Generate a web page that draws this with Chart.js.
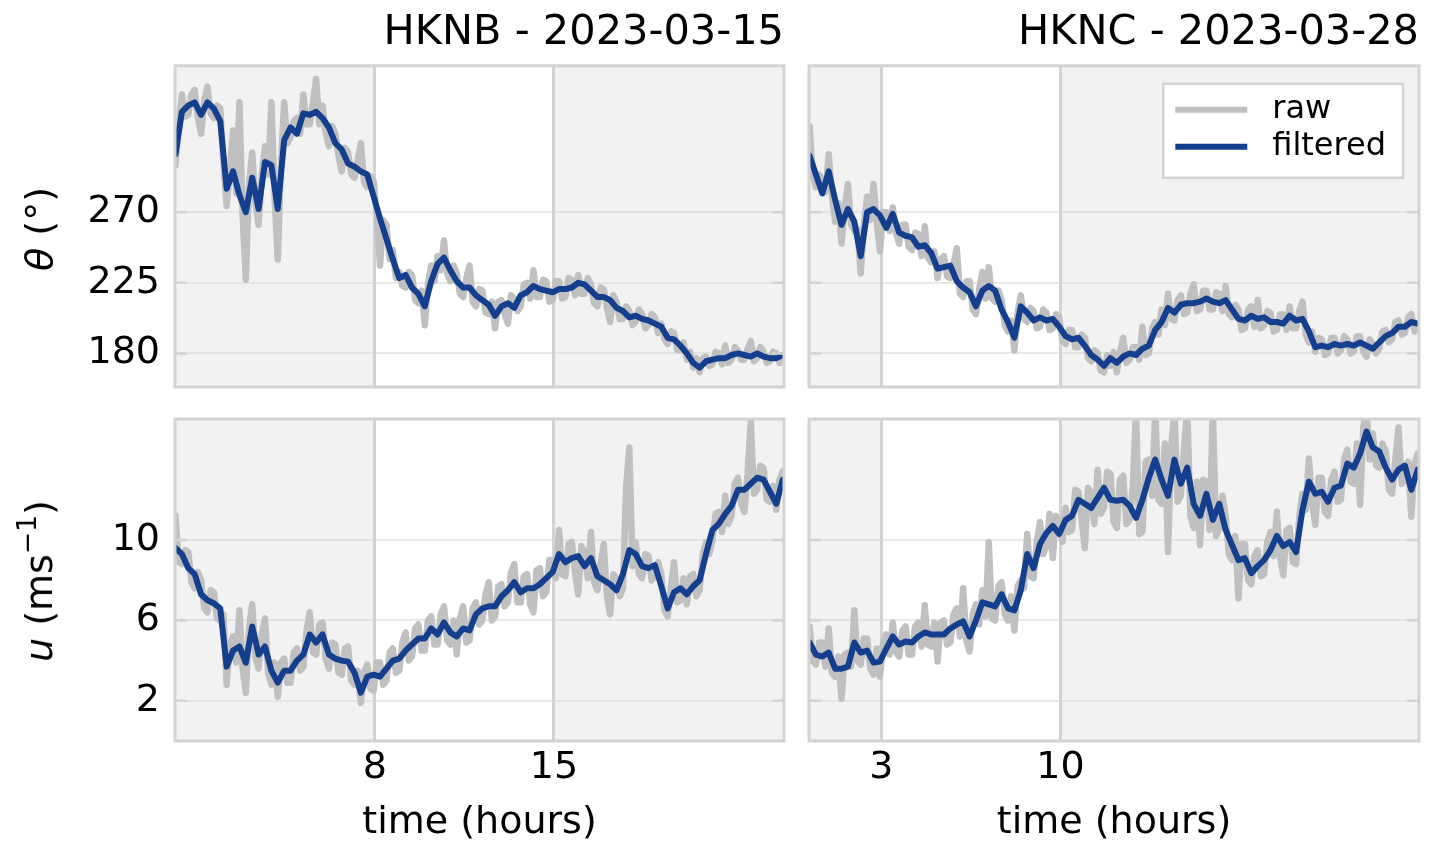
<!DOCTYPE html>
<html>
<head>
<meta charset="utf-8">
<script src="https://cdn.jsdelivr.net/npm/chart.js@4.4.1/dist/chart.umd.min.js"></script>
<style>
html,body{margin:0;padding:0;background:#fff;}
#wrap{position:relative;width:1440px;height:868px;overflow:hidden;background:#fff;font-family:'DejaVu Sans',sans-serif;}
canvas{position:absolute;}
.ylab{position:absolute;transform:translate(-50%,-50%) rotate(-90deg);white-space:nowrap;font-size:38px;line-height:1;color:#000;font-family:'DejaVu Sans',sans-serif;}
.ylab sup{font-size:0.7em;vertical-align:0.6em;line-height:0;}
</style>
</head>
<body>
<div id="wrap">
  <canvas id="cTL" width="800" height="400" style="left:0;top:0"></canvas>
  <canvas id="cTR" width="640" height="400" style="left:800px;top:0"></canvas>
  <canvas id="cBL" width="800" height="468" style="left:0;top:400px"></canvas>
  <canvas id="cBR" width="640" height="468" style="left:800px;top:400px"></canvas>
  <div class="ylab" style="left:39px;top:229px"><i>θ</i> (°)</div>
  <div class="ylab" style="left:39px;top:581px"><i>u</i> (ms<sup>−1</sup>)</div>
</div>
<script>
// ---------------- data ----------------
const stations = ['HKNB - 2023-03-15', 'HKNC - 2023-03-28'];
const seriesNames = ['raw', 'filtered'];
const xAxisLabel = 'time (hours)';

// sampling grids (hours): filtered every 15 min, raw every 7.5 min
const hours = Array.from({length: 96}, (_, i) => Math.round((0.2 + 0.25 * i) * 1000) / 1000);
const rawHours = Array.from({length: 191}, (_, i) => Math.round((0.2 + 0.125 * i) * 1000) / 1000);

const hknbHourTicks = [8, 15];
const hkncHourTicks = [3, 10];
const thetaTicks = [180, 225, 270];
const speedTicks = [2, 6, 10];

// night (shaded) periods, hours
const hknbNight = [[0, 8], [15, 24]];
const hkncNight = [[0, 3], [10, 24]];

// wind direction (deg) - HKNB
const hknbDirRaw = [300,326,345,331,332,345,348,330,320,341,350,333,330,338,336,302,274,296,322,282,
  340,268,227,288,308,276,262,294,312,294,340,280,240,300,340,314,318,328,330,320,
  345,326,326,340,355,326,338,321,312,325,320,306,296,311,308,294,292,303,314,289,
  286,293,290,267,236,265,262,240,246,228,232,223,222,232,230,214,212,220,198,224,
  236,226,242,233,252,231,226,236,231,218,216,228,236,213,210,221,220,206,205,213,
  196,213,214,205,199,217,215,207,210,224,225,215,233,216,216,227,226,213,214,226,
  226,215,216,228,227,217,230,218,218,228,224,212,210,222,221,209,200,217,213,202,
  202,210,207,198,200,208,205,196,198,205,203,193,199,189,186,194,193,182,182,187,
  176,181,171,177,168,177,178,172,173,181,180,173,185,174,176,184,182,176,176,183,
  188,175,177,184,181,174,175,181,180,174,176];
const hknbDirFilt = [307,334,338,340,332,340,336,328,285,296,
  281,270,292,272,302,300,272,316,324,320,
  333,332,334,330,324,314,310,301,299,296,
  294,280,266,253,240,228,230,222,218,210,
  226,237,241,233,226,222,222,217,214,211,
  204,210,212,209,217,219,223,221,220,219,
  221,221,222,225,224,220,216,216,214,209,
  207,203,204,202,201,199,197,190,189,185,
  180,174,171,175,176,177,177,179,180,179,
  178,180,178,177,177,179];

// wind direction (deg) - HKNC
const hkncDirRaw = [325,294,286,294,290,283,307,281,264,276,250,273,288,262,258,259,231,262,280,265,
  288,264,245,270,270,258,273,257,250,262,262,248,246,257,256,242,261,241,238,245,
  228,240,242,229,228,237,247,218,216,226,226,208,205,221,232,215,235,215,213,220,
  214,198,194,201,182,206,217,202,200,209,207,196,197,208,206,195,196,205,203,188,
  186,195,195,184,184,192,190,177,175,182,180,169,168,179,172,181,168,181,190,174,
  176,184,184,176,197,179,180,196,200,192,208,198,218,202,201,214,217,205,206,218,
  224,207,208,220,220,208,208,219,218,207,223,205,203,211,208,195,196,208,210,197,
  214,196,198,207,206,194,195,205,205,195,210,196,196,207,213,192,187,194,181,190,
  189,179,180,190,190,180,182,191,189,180,181,191,191,181,178,189,186,180,183,194,
  195,187,189,200,201,192,193,203,205,194,196];
const hkncDirFilt = [306,294,282,296,278,262,272,264,242,270,
  272,268,260,269,257,255,254,248,249,244,
  234,235,236,226,222,219,210,220,223,220,
  208,200,190,210,206,201,203,201,202,197,
  191,189,190,185,179,176,172,177,174,178,
  180,179,183,185,195,200,209,206,211,212,
  212,213,215,213,212,214,208,202,201,204,
  202,203,200,200,199,204,201,202,194,184,
  185,184,186,185,186,185,187,185,183,187,
  191,193,197,197,200,199];

// wind speed (m/s) - HKNB
const hknbSpdRaw = [11.2,8.9,8.8,9.5,9.4,7.9,7.6,8.4,8.0,6.6,6.4,7.5,7.4,6.1,6.0,6.3,2.8,4.8,5.2,3.9,
  6.5,3.6,2.4,5.6,6.8,4.2,3.6,5.3,6.1,3.4,2.8,3.9,2.2,3.9,4.1,2.9,2.9,4.4,4.6,3.5,
  3.7,5.5,6.4,4.4,4.3,5.8,5.9,4.1,3.6,4.9,4.8,3.4,3.3,4.6,4.7,3.0,2.8,3.5,1.9,3.4,
  3.8,2.6,2.5,3.9,3.9,2.8,3.0,4.4,4.6,3.4,3.5,4.9,5.4,4.0,4.2,5.6,5.8,4.5,4.5,6.0,
  6.2,4.8,4.8,6.3,6.7,5.0,4.8,6.0,4.3,6.1,6.7,4.9,5.0,6.6,6.9,5.8,6.0,7.3,7.9,6.0,
  6.2,7.7,7.8,6.7,6.9,8.4,8.8,6.9,6.9,8.2,8.3,6.8,6.4,8.5,8.6,7.2,7.4,9.0,9.0,8.1,
  10.5,8.3,8.2,9.8,9.9,8.4,7.3,9.7,9.4,8.1,10.4,7.9,7.5,8.8,9.8,7.2,6.3,8.3,8.1,7.2,
  7.6,12.6,14.6,8.7,9.9,8.3,8.1,9.3,9.2,8.0,8.2,8.9,8.3,6.5,6.2,7.6,8.9,6.9,7.0,8.1,
  6.8,8.2,8.3,7.2,7.5,9.3,9.9,9.3,10.0,11.3,11.4,10.4,12.2,10.8,11.2,12.8,13.1,11.8,11.4,13.3,
  15.9,12.3,12.5,13.7,13.6,12.0,11.9,12.7,11.5,13.0,13.4];
const hknbSpdFilt = [9.6,9.3,8.6,8.3,7.3,7.0,6.85,6.6,3.7,4.5,
  4.7,3.9,5.7,4.3,4.7,3.5,2.9,3.5,3.5,4.0,
  4.3,5.3,4.9,5.3,4.3,4.1,4.0,3.95,3.4,2.4,
  3.2,3.3,3.2,3.6,4.0,4.1,4.5,4.8,5.1,5.1,
  5.6,5.3,5.9,5.4,5.2,5.6,5.5,6.3,6.6,6.7,
  6.7,7.2,7.5,7.9,7.4,7.6,7.6,7.8,8.1,8.4,
  9.3,8.9,9.1,9.2,8.7,9.1,8.2,8.0,7.8,7.5,
  8.3,9.5,9.3,8.7,8.6,8.75,7.7,6.6,7.4,7.6,
  7.3,7.7,8.0,9.3,10.5,10.8,11.3,11.7,12.5,12.5,
  12.8,13.1,13.0,12.4,11.8,13.0];

// wind speed (m/s) - HKNC
const hkncSpdRaw = [5.7,4.0,3.8,4.9,4.9,3.7,5.6,3.4,3.2,4.2,2.1,4.3,4.4,3.7,6.5,4.0,3.8,5.1,5.1,3.6,
  3.3,4.6,3.2,4.9,5.3,4.3,5.9,4.4,4.2,5.5,5.7,4.3,4.3,5.7,5.9,4.7,6.75,4.8,4.7,5.9,
  3.95,5.9,6.0,4.8,4.9,6.3,6.6,5.2,7.6,5.0,4.45,6.3,6.8,5.8,7.5,6.2,9.9,6.1,6.0,7.7,
  7.9,6.3,6.0,7.2,5.5,7.7,8.0,7.6,10.3,8.2,8.1,9.9,10.9,9.3,9.7,11.3,9.1,11.2,11.0,9.9,
  11.6,10.4,10.5,12.5,12.4,11.0,9.6,12.6,12.3,10.8,13.5,11.3,11.6,13.4,13.3,10.9,10.6,13.0,13.2,10.8,
  11.0,12.6,16.5,10.3,10.4,13.9,14.0,12.2,16.5,12.0,11.8,14.8,9.4,14.6,16.5,11.9,12.2,14.6,16.5,11.2,
  10.6,12.9,9.75,13.0,12.9,10.5,16.5,10.2,10.6,12.2,11.2,9.3,9.0,10.2,7.1,9.8,9.8,8.0,7.8,9.2,
  9.5,8.2,8.3,9.9,10.4,9.2,11.4,9.2,8.25,10.5,10.6,8.9,8.8,11.2,12.3,11.5,14.05,11.8,10.75,13.1,
  13.1,11.4,11.2,13.0,13.4,11.9,12.0,14.0,14.5,12.9,12.8,14.8,11.75,15.6,16.5,14.0,15.3,13.7,13.6,14.8,
  14.4,12.5,12.3,14.0,15.6,12.8,13.0,13.9,11.15,13.8,14.3];
const hkncSpdFilt = [4.9,4.3,4.2,4.4,3.6,3.6,3.7,4.9,4.4,4.5,
  3.9,3.95,4.6,5.2,4.8,4.95,4.9,5.2,5.4,5.3,
  5.3,5.3,5.6,5.8,5.95,5.2,6.0,6.9,6.8,6.7,
  7.3,6.6,6.5,7.5,9.3,8.6,9.8,10.35,10.7,10.3,
  11.0,11.2,12.0,11.8,11.6,12.1,12.6,12.0,11.95,12.0,
  11.7,11.1,12.0,13.1,14.0,13.0,12.2,14.0,12.8,13.6,
  11.8,11.2,12.3,11.0,11.8,10.5,9.75,9.0,9.1,8.35,
  8.7,9.0,9.5,10.2,9.7,9.9,9.4,11.5,12.9,12.3,
  12.4,11.9,12.6,12.7,13.8,13.6,14.3,15.4,14.6,14.4,
  13.6,13.0,13.5,13.7,12.5,13.5];

// axis ranges
const xRange = [0.18, 24];
const thetaRange = [158.6, 363.3];
const speedRange = [0, 16.02];

// ---------------- style ----------------
const FONT = "'DejaVu Sans', sans-serif";
const COL = {
  shade: '#f2f2f2',
  frame: '#d3d3d3',
  grid: 'rgba(211,211,211,0.5)',
  raw: '#c0c0c0',
  filt: '#143f8e',
  text: '#000000'
};
Chart.defaults.font.family = FONT;
Chart.defaults.color = COL.text;

const panelDecor = {
  id: 'panelDecor',
  beforeDraw(chart, args, opts) {
    const {ctx, chartArea: a, scales: {x}} = chart;
    ctx.save();
    ctx.fillStyle = COL.shade;
    for (const [s, e] of opts.night) {
      const p0 = Math.max(a.left, x.getPixelForValue(s));
      const p1 = Math.min(a.right, x.getPixelForValue(e));
      if (p1 > p0) ctx.fillRect(p0, a.top, p1 - p0, a.bottom - a.top);
    }
    ctx.restore();
  },
  afterDatasetsDraw(chart, args, opts) {
    const {ctx, chartArea: a, scales: {y}} = chart;
    ctx.save();
    ctx.strokeStyle = COL.frame;
    ctx.lineWidth = 2.5;
    ctx.beginPath();
    for (const t of opts.yTicks) {
      const py = y.getPixelForValue(t);
      ctx.moveTo(a.left, py); ctx.lineTo(a.left + 12, py);
      ctx.moveTo(a.right - 12, py); ctx.lineTo(a.right, py);
    }
    ctx.stroke();
    ctx.lineWidth = 3;
    ctx.strokeRect(a.left, a.top, a.right - a.left, a.bottom - a.top);
    ctx.restore();
  }
};

const boxLegend = {
  id: 'boxLegend',
  afterDraw(chart, args, opts) {
    if (!opts.show) return;
    const {ctx, chartArea: a} = chart;
    const items = seriesNames.map(n => chart.data.datasets.find(d => d.label === n));
    ctx.save();
    ctx.font = `${opts.fontSize}px ${FONT}`;
    const tw = Math.max(...items.map(d => ctx.measureText(d.label).width));
    const w = opts.padL + opts.lineLen + opts.gap + tw + opts.padR;
    const h = opts.padT + opts.rowH * items.length + opts.padB;
    const x0 = a.right - opts.marginR - w;
    const y0 = a.top + opts.marginT;
    ctx.fillStyle = '#ffffff';
    ctx.fillRect(x0, y0, w, h);
    ctx.strokeStyle = COL.frame;
    ctx.lineWidth = 2.5;
    ctx.strokeRect(x0, y0, w, h);
    items.forEach((d, i) => {
      const cy = y0 + opts.padT + opts.rowH * (i + 0.5);
      ctx.strokeStyle = d.borderColor;
      ctx.lineWidth = 6;
      ctx.beginPath();
      ctx.moveTo(x0 + opts.padL, cy);
      ctx.lineTo(x0 + opts.padL + opts.lineLen, cy);
      ctx.stroke();
      ctx.fillStyle = COL.text;
      ctx.textBaseline = 'middle';
      ctx.textAlign = 'left';
      ctx.fillText(d.label, x0 + opts.padL + opts.lineLen + opts.gap, cy);
    });
    ctx.restore();
  }
};

function makePanel(id, cfg) {
  const toXY = (xs, arr) => xs.map((h, i) => ({x: h, y: arr[i]}));
  return new Chart(document.getElementById(id), {
    type: 'line',
    data: {
      datasets: [
        {label: seriesNames[0], data: toXY(rawHours, cfg.raw), borderColor: COL.raw, borderWidth: 6.5,
         pointRadius: 0, tension: 0, order: 2, clip: 0, borderJoinStyle: 'round', borderCapStyle: 'round'},
        {label: seriesNames[1], data: toXY(hours, cfg.filt), borderColor: COL.filt, borderWidth: 6,
         pointRadius: 0, tension: 0, order: 1, clip: 0,
         borderJoinStyle: 'round', borderCapStyle: 'round'}
      ]
    },
    options: {
      responsive: false,
      animation: false,
      events: [],
      layout: {padding: cfg.pad},
      plugins: {
        legend: {display: false},
        tooltip: {enabled: false},
        title: cfg.title ? {
          display: true, text: cfg.title, align: 'end', color: COL.text,
          font: {family: FONT, size: 41.5, weight: 'normal', lineHeight: 1.2},
          padding: {top: 8, bottom: 8}
        } : {display: false},
        panelDecor: {night: cfg.night, yTicks: cfg.yTicks},
        boxLegend: cfg.legend ? Object.assign({show: true}, cfg.legend) : {show: false}
      },
      scales: {
        x: {
          type: 'linear', min: xRange[0], max: xRange[1],
          afterBuildTicks: s => { s.ticks = cfg.xTicks.map(v => ({value: v})); },
          afterFit: s => { s.height = cfg.xH; s.paddingLeft = 0; s.paddingRight = 0; },
          grid: {color: COL.frame, lineWidth: 3, drawTicks: false},
          border: {display: false},
          ticks: {display: cfg.xLabels, padding: 4, color: COL.text, maxRotation: 0,
                  font: {family: FONT, size: 38}},
          title: {display: cfg.xLabels, text: xAxisLabel, color: COL.text,
                  font: {family: FONT, size: 38}, padding: {top: 0, bottom: 22}}
        },
        y: {
          type: 'linear', min: cfg.yRange[0], max: cfg.yRange[1],
          afterBuildTicks: s => { s.ticks = cfg.yTicks.map(v => ({value: v})); },
          afterFit: s => { s.width = cfg.yW; s.paddingTop = 0; s.paddingBottom = 0; },
          grid: {color: COL.grid, lineWidth: 2, drawTicks: false},
          border: {display: false},
          ticks: {display: cfg.yLabels, padding: 15, color: COL.text,
                  font: {family: FONT, size: 38}}
        }
      }
    },
    plugins: [panelDecor, boxLegend]
  });
}

makePanel('cTL', {raw: hknbDirRaw, filt: hknbDirFilt, title: stations[0], night: hknbNight,
  xTicks: hknbHourTicks, yTicks: thetaTicks, yRange: thetaRange, xLabels: false, yLabels: true,
  xH: 0, yW: 175, pad: {left: 0, right: 16, top: 0, bottom: 13}});
makePanel('cTR', {raw: hkncDirRaw, filt: hkncDirFilt, title: stations[1], night: hkncNight,
  xTicks: hkncHourTicks, yTicks: thetaTicks, yRange: thetaRange, xLabels: false, yLabels: false,
  xH: 0, yW: 0, pad: {left: 9, right: 21, top: 0, bottom: 13},
  legend: {fontSize: 32, padL: 12, lineLen: 72, gap: 25, padR: 17, padT: 7.5, rowH: 37, padB: 12.5,
           marginR: 16, marginT: 18}});
makePanel('cBL', {raw: hknbSpdRaw, filt: hknbSpdFilt, title: null, night: hknbNight,
  xTicks: hknbHourTicks, yTicks: speedTicks, yRange: speedRange, xLabels: true, yLabels: true,
  xH: 127, yW: 175, pad: {left: 0, right: 16, top: 19, bottom: 0}});
makePanel('cBR', {raw: hkncSpdRaw, filt: hkncSpdFilt, title: null, night: hkncNight,
  xTicks: hkncHourTicks, yTicks: speedTicks, yRange: speedRange, xLabels: true, yLabels: false,
  xH: 127, yW: 0, pad: {left: 9, right: 21, top: 19, bottom: 0}});
</script>
</body>
</html>
